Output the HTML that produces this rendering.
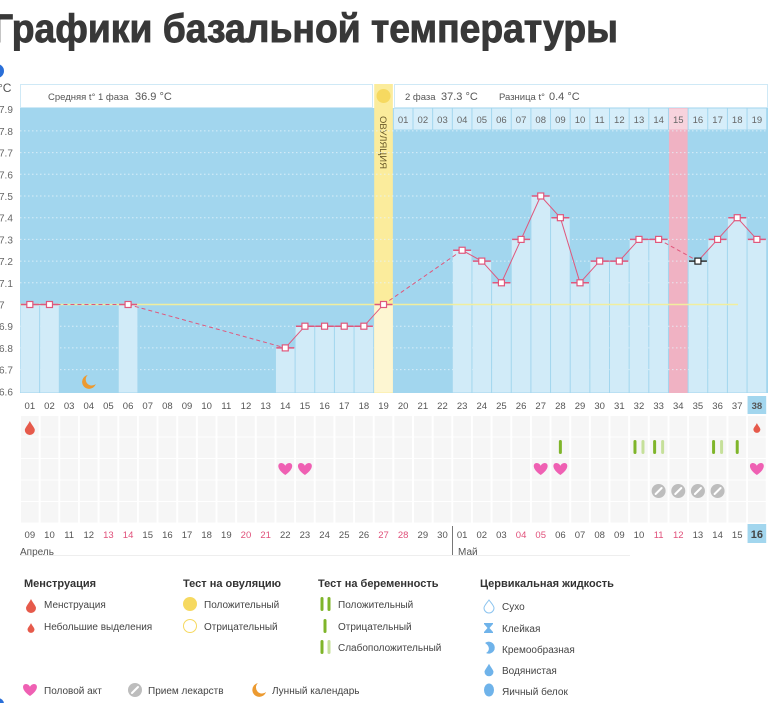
<!DOCTYPE html>
<html><head><meta charset="utf-8">
<style>
html,body{margin:0;padding:0;background:#fff;width:770px;height:703px;overflow:hidden}
svg{display:block}
text{font-family:"Liberation Sans","DejaVu Sans",sans-serif}
</style></head>
<body>
<svg id="s" width="770" height="703" viewBox="0 0 770 703" xmlns="http://www.w3.org/2000/svg">
<text x="-8" y="42" font-size="40" style="font-weight:700" fill="#383838" stroke="#383838" stroke-width="0.9" textLength="626" lengthAdjust="spacingAndGlyphs">Графики базальной температуры</text>
<circle cx="-3" cy="71" r="7" fill="#2a6fd8"/>
<circle cx="-2" cy="704" r="6" fill="#2a6fd8"/>
<text x="-2" y="92" font-size="12" fill="#555">°C</text>
<g id="g"></g>
</svg>
<script>
const NS="http://www.w3.org/2000/svg";const g=document.getElementById('g');
function el(t,a,txt){const e=document.createElementNS(NS,t);for(const k in a)e.setAttribute(k,a[k]);if(txt!==undefined)e.textContent=txt;g.appendChild(e);return e;}
const X0=20,W=19.65,Yb=392.5;
const cx=i=>X0+W*(i-1)+W/2;
const ty=t=>304.5-(t-37)*217;
el('rect',{x:X0,y:108,width:748,height:285,fill:'#a2d6ee'});
el('rect',{x:20.5,y:84.5,width:352,height:23,fill:'#fff',stroke:'#cfe9f6'});
el('rect',{x:394.5,y:84.5,width:373,height:23,fill:'#fff',stroke:'#cfe9f6'});
el('text',{x:48,y:100,'font-size':'9.5',fill:'#555'},'Средняя t° 1 фаза');
el('text',{x:135,y:100,'font-size':'11',fill:'#555'},'36.9 °С');
el('text',{x:405,y:100,'font-size':'9.5',fill:'#555'},'2 фаза');
el('text',{x:441,y:100,'font-size':'11',fill:'#555'},'37.3 °С');
el('text',{x:499,y:100,'font-size':'9.5',fill:'#555'},'Разница t°');
el('text',{x:549,y:100,'font-size':'11',fill:'#555'},'0.4 °С');
el('rect',{x:cx(19)-W/2+0.5,y:84,width:W-1,height:309,fill:'#fbec9c'});
el('circle',{cx:cx(19),cy:96,r:7,fill:'#f6d960'});
el('text',{x:0,y:0,'font-size':'9.5',fill:'#6a5a2a',transform:`translate(${cx(19)-3.5},116) rotate(90)`},'ОВУЛЯЦИЯ');
el('rect',{x:cx(34)-W/2+0.5,y:108,width:W-1,height:285,fill:'#f0b2c3'});
for(let k=1;k<=19;k++){const i=19+k;const pink=i===34;
 el('rect',{x:cx(i)-W/2+0.5,y:108.5,width:W-1,height:21,fill:pink?'#f7d3dd':'#d6eefa'});
 el('text',{x:cx(i),y:123,'font-size':'9.5',fill:'#666','text-anchor':'middle'},(k<10?'0':'')+k);}
for(let v=37.8;v>36.65;v-=0.1){const y=ty(v);el('line',{x1:20,x2:768,y1:y,y2:y,stroke:'#e6f4fb','stroke-width':1,'stroke-dasharray':'1.5 2.5',opacity:0.8});}
const labs=['37.9','37.8','37.7','37.6','37.5','37.4','37.3','37.2','37.1','37','36.9','36.8','36.7','36.6'];
labs.forEach((l,j)=>{const v=37.9-j*0.1;el('text',{x:-1,y:ty(v)+4,'font-size':'10',fill:'#666'},l==='37'?'7':l.slice(1));});
const T={1:37,2:37,6:37,14:36.8,15:36.9,16:36.9,17:36.9,18:36.9,19:37,23:37.25,24:37.2,25:37.1,26:37.3,27:37.5,28:37.4,29:37.1,30:37.2,31:37.2,32:37.3,33:37.3,35:37.2,36:37.3,37:37.4,38:37.3};
for(const k in T){const i=+k;if(i===19){el('rect',{x:cx(i)-W/2+0.5,y:ty(T[k]),width:W-1,height:Yb-ty(T[k]),fill:'#fdf6d2'});continue;}
 el('rect',{x:cx(i)-W/2+0.5,y:ty(T[k]),width:W-1,height:Yb-ty(T[k]),fill:'#d1ebf8'});}
el('line',{x1:20,x2:738,y1:ty(37),y2:ty(37),stroke:'#f1ee9e','stroke-width':1.5});
const keys=Object.keys(T).map(Number).sort((a,b)=>a-b);
for(let j=0;j<keys.length-1;j++){const a=keys[j],b=keys[j+1];const dash=(b-a>1);
 el('line',{x1:cx(a),y1:ty(T[a]),x2:cx(b),y2:ty(T[b]),stroke:'#e0577c','stroke-width':1,'stroke-dasharray':dash?'4 3':''});}
keys.forEach(i=>{const y=ty(T[i]);el('line',{x1:cx(i)-9,x2:cx(i)+9,y1:y,y2:y,stroke:i===35?'#333':'#e0577c','stroke-width':1.5});
 el('rect',{x:cx(i)-3,y:y-3,width:6,height:6,fill:'#fff',stroke:i===35?'#222':'#e0577c','stroke-width':1.2});});
el('path',{d:`M${cx(4)-1},375 a7,7 0 1 0 8,9 a6,6 0 0 1 -8,-9z`,fill:'#ec9a30'});
for(let i=1;i<=38;i++){let t=(i<=19? (i<10?'0':'')+i : ''+i);
 if(i===38){el('rect',{x:cx(i)-W/2+0.5,y:396,width:W-1,height:18,fill:'#a2d6ee'});}
 el('text',{x:cx(i),y:409,'font-size':'9.5',fill:'#555','text-anchor':'middle','font-weight':i===38?'bold':'normal'},t);}
for(let i=1;i<=38;i++)for(let r=0;r<5;r++){el('rect',{x:cx(i)-W/2+1,y:416+r*21.5,width:W-2,height:20.5,fill:'#f6f6f6'});}
const dates=['09','10','11','12','13','14','15','16','17','18','19','20','21','22','23','24','25','26','27','28','29','30','01','02','03','04','05','06','07','08','09','10','11','12','13','14','15','16'];
const red=new Set([5,6,12,13,19,20,26,27,33,34]);
dates.forEach((d,j)=>{const i=j+1;if(i===38)el('rect',{x:cx(i)-W/2+0.5,y:524,width:W-1,height:19,fill:'#a2d6ee'});
 el('text',{x:cx(i),y:538,'font-size':i===38?'11':'9.5',fill:red.has(i)?'#e0507a':(i===38?'#444':'#555'),'text-anchor':'middle','font-weight':i===38?'bold':'normal'},d);});
el('line',{x1:452.5,x2:452.5,y1:526,y2:555,stroke:'#777','stroke-width':1});
el('line',{x1:20,x2:630,y1:555.5,y2:555.5,stroke:'#eee'});
el('text',{x:20,y:555,'font-size':'10',fill:'#555'},'Апрель');
el('text',{x:458,y:555,'font-size':'10',fill:'#555'},'Май');
function drop(x,y,s,c){el('path',{d:`M${x},${y-7*s} C${x+2*s},${y-3*s} ${x+5*s},${y} ${x+5*s},${y+2*s} A${5*s},${5*s} 0 0 1 ${x-5*s},${y+2*s} C${x-5*s},${y} ${x-2*s},${y-3*s} ${x},${y-7*s}z`,fill:c});}
function heart(x,y,c){el('path',{d:`M${x},${y+6} C${x-9},${y} ${x-8},${y-6} ${x-4},${y-6} C${x-2},${y-6} ${x},${y-4} ${x},${y-3} C${x},${y-4} ${x+2},${y-6} ${x+4},${y-6} C${x+8},${y-6} ${x+9},${y} ${x},${y+6}z`,fill:c||'#ef60b3'});}
function pill(x,y){el('circle',{cx:x,cy:y,r:7,fill:'#bdbdbd'});el('line',{x1:x-3,y1:y+3,x2:x+3,y2:y-3,stroke:'#fff','stroke-width':2,'stroke-linecap':'round'});}
function bar(x,y,c){el('rect',{x:x-1.5,y:y-7,width:3,height:14,rx:1.5,fill:c});}
drop(cx(1),428,1,'#e65a4b');drop(cx(38),428,0.7,'#e65a4b');
[14,15,27,28,38].forEach(i=>heart(cx(i),469));
[33,34,35,36].forEach(i=>pill(cx(i),491));
const G='#7fb52a',L='#c6e09a';
bar(cx(28),447,G);bar(cx(32)-4,447,G);bar(cx(32)+4,447,L);bar(cx(33)-4,447,G);bar(cx(33)+4,447,L);bar(cx(36)-4,447,G);bar(cx(36)+4,447,L);bar(cx(37),447,G);
const H={'font-size':'11','font-weight':'bold',fill:'#333'};const N={'font-size':'10',fill:'#444'};
el('text',Object.assign({x:24,y:587},H),'Менструация');
el('text',Object.assign({x:183,y:587},H),'Тест на овуляцию');
el('text',Object.assign({x:318,y:587},H),'Тест на беременность');
el('text',Object.assign({x:480,y:587},H),'Цервикальная жидкость');
drop(31,606,1,'#e65a4b');el('text',Object.assign({x:44,y:608},N),'Менструация');
drop(31,628,0.7,'#e65a4b');el('text',Object.assign({x:44,y:630},N),'Небольшие выделения');
el('circle',{cx:190,cy:604,r:7,fill:'#f6d960'});el('text',Object.assign({x:204,y:608},N),'Положительный');
el('circle',{cx:190,cy:626,r:6.5,fill:'#fff',stroke:'#f6d960','stroke-width':1});el('text',Object.assign({x:204,y:630},N),'Отрицательный');
bar(322,604,G);bar(329,604,G);el('text',Object.assign({x:338,y:608},N),'Положительный');
bar(325,626,G);el('text',Object.assign({x:338,y:630},N),'Отрицательный');
bar(322,647,G);bar(329,647,L);el('text',Object.assign({x:338,y:651},N),'Слабоположительный');
el('path',{d:'M489,600 C492,604 494,606 494,608 A5,5 0 0 1 484,608 C484,606 486,604 489,600z',fill:'#fff',stroke:'#8cc4ef','stroke-width':1});el('text',Object.assign({x:502,y:610},N),'Сухо');
el('path',{d:'M484,623 h9 v1 l-3.5,4 l3.5,4 v1 h-9 v-1 l3.5,-4 l-3.5,-4z',fill:'#6fb3ea'});el('text',Object.assign({x:502,y:632},N),'Клейкая');
el('path',{d:'M485,643 A6,6 0 1 1 486,653 C490,651 490,646 485,643z',fill:'#6fb3ea'});el('text',Object.assign({x:502,y:653},N),'Кремообразная');
drop(489,670,0.9,'#6fb3ea');el('text',Object.assign({x:502,y:674},N),'Водянистая');
el('ellipse',{cx:489,cy:690,rx:5,ry:6.5,fill:'#6fb3ea'});el('text',Object.assign({x:502,y:695},N),'Яичный белок');
heart(30,690);el('text',Object.assign({x:44,y:694},N),'Половой акт');
pill(135,690);el('text',Object.assign({x:148,y:694},N),'Прием лекарств');
el('path',{d:'M258,683 a7,7 0 1 0 8,9 a6,6 0 0 1 -8,-9z',fill:'#ec9a30'});el('text',Object.assign({x:272,y:694},N),'Лунный календарь');
</script>
</body></html>
